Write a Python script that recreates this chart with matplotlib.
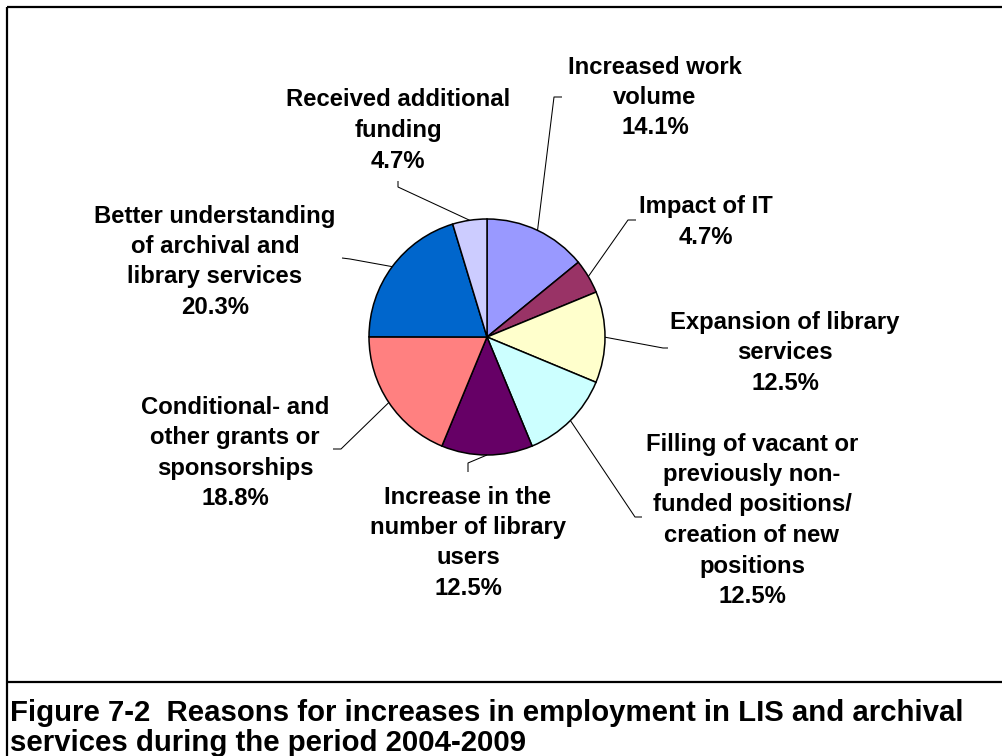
import numpy as np
import matplotlib
matplotlib.use("Agg")
import matplotlib.pyplot as plt

# ---- data ----
categories = [
    "Increased work\nvolume",
    "Impact of IT",
    "Expansion of library\nservices",
    "Filling of vacant or\npreviously non-\nfunded positions/\ncreation of new\npositions",
    "Increase in the\nnumber of library\nusers",
    "Conditional- and\nother grants or\nsponsorships",
    "Better understanding\nof archival and\nlibrary services",
    "Received additional\nfunding",
]
values = [14.1, 4.7, 12.5, 12.5, 12.5, 18.8, 20.3, 4.7]
colors = ["#9999FF", "#993366", "#FFFFCC", "#CCFFFF", "#660066", "#FF8080", "#0066CC", "#CCCCFF"]
caption = ["Figure 7-2  Reasons for increases in employment in LIS and archival",
           "services during the period 2004-2009"]

# ---- layout (pixel coords, y down) ----
W, H = 1003, 756
center_px = (487, 337)
radius = 118
# label block: center x, first line center y
label_pos = [(655, 65), (706, 205), (785, 320), (752, 442),
             (468, 495), (235, 405), (215, 214), (398, 98)]
# leader: elbow point, end point
leader_pts = [((554, 97), (562, 97)), ((628, 220), (636, 220)), ((663, 348), (668, 348)),
              ((635, 517), (642, 517)), ((468, 463), (468, 472)), ((341, 449), (333, 449)),
              ((350, 259), (342, 258)), ((398, 187), (398, 181))]
pitch = 30.5
fs = 17.2

plt.rcParams['font.family'] = ['Liberation Sans', 'DejaVu Sans']

def P(x, y):
    return x, H - y

fig = plt.figure(figsize=(W / 100, H / 100), dpi=100)
ax = fig.add_axes([0, 0, 1, 1])
wedges, _ = ax.pie(values, colors=colors, startangle=90, counterclock=False,
                   center=P(*center_px), radius=radius,
                   wedgeprops=dict(edgecolor="black", linewidth=1.1))
ax.set_xlim(0, W)
ax.set_ylim(0, H)
ax.set_aspect("equal")
ax.axis("off")

cx, cy = P(*center_px)
for i, w in enumerate(wedges):
    mid = np.deg2rad((w.theta1 + w.theta2) / 2)
    sx, sy = cx + radius * np.cos(mid), cy + radius * np.sin(mid)
    (ex, ey), (fx, fy) = leader_pts[i]
    ex, ey = P(ex, ey)
    fx, fy = P(fx, fy)
    ax.plot([sx, ex, fx], [sy, ey, fy], color="black", lw=0.75, solid_capstyle="butt")
    lines = categories[i].split("\n") + [f"{values[i]:.1f}%"]
    lx, ly0 = label_pos[i]
    for k, t in enumerate(lines):
        tx, ty = P(lx, ly0 + k * pitch + 8.5)
        ax.text(tx, ty, t, ha="center", va="baseline", fontsize=fs, fontweight="bold")

# frame lines
lw = 1.6
ax.plot([7, W], [H - 7, H - 7], color="black", lw=lw, solid_capstyle="butt")
ax.plot([7, 7], [H - 7, 0], color="black", lw=lw, solid_capstyle="butt")
ax.plot([7, W], [H - 682, H - 682], color="black", lw=lw, solid_capstyle="butt")

for k, t in enumerate(caption):
    ax.text(*P(10, 721 + k * 30), t, ha="left", va="baseline", fontsize=21.2, fontweight="bold")

fig.savefig("out.png", dpi=100)
